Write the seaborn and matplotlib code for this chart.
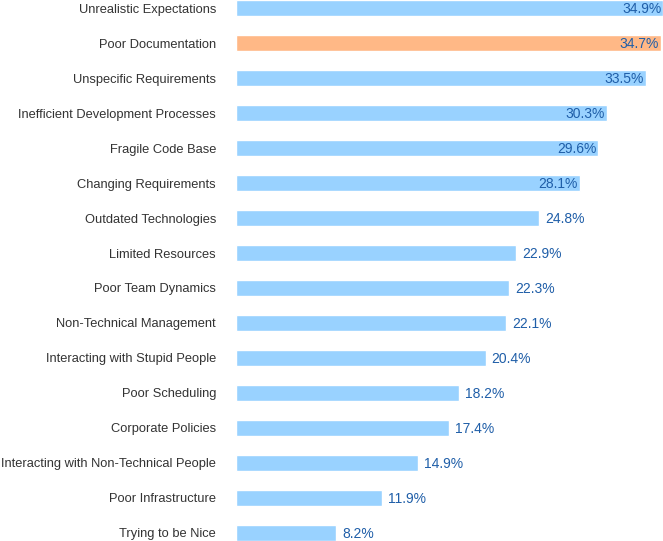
import pandas as pd
import matplotlib
matplotlib.use("Agg")
import matplotlib.pyplot as plt
import seaborn as sns

# Data (top to bottom)
categories = [
    "Unrealistic Expectations", "Poor Documentation", "Unspecific Requirements",
    "Inefficient Development Processes", "Fragile Code Base", "Changing Requirements",
    "Outdated Technologies", "Limited Resources", "Poor Team Dynamics",
    "Non-Technical Management", "Interacting with Stupid People", "Poor Scheduling",
    "Corporate Policies", "Interacting with Non-Technical People",
    "Poor Infrastructure", "Trying to be Nice",
]
values = [34.9, 34.7, 33.5, 30.3, 29.6, 28.1, 24.8, 22.9, 22.3, 22.1,
          20.4, 18.2, 17.4, 14.9, 11.9, 8.2]
highlight = "Poor Documentation"

df = pd.DataFrame({"category": categories, "value": values})
df["group"] = ["hl" if c == highlight else "base" for c in categories]

sns.set_style("white")
plt.rcParams["font.family"] = ["Liberation Sans", "DejaVu Sans"]

fig = plt.figure(figsize=(6.63, 5.41), dpi=100)
ax = fig.add_axes([236 / 663, 0, 1 - 236 / 663, 1])

sns.barplot(data=df, y="category", x="value", hue="group", orient="h",
            palette={"base": "#99d2ff", "hl": "#ffb886"}, width=0.47,
            dodge=False, legend=False, saturation=1, ax=ax)

ax.set_xlim(0, 34.9)
ax.set_ylim(15.23, -0.23)
ax.set_xlabel("")
ax.set_ylabel("")
ax.set_xticks([])
sns.despine(ax=ax, left=True, bottom=True)
ax.tick_params(axis="y", length=0, pad=14.4, labelsize=9.3, labelcolor="#333333")

# value labels: inside for long bars, outside for short ones
for i, v in enumerate(values):
    if v >= 26:
        ax.text(v - 0.15, i + 0.03, f"{v}%", ha="right", va="center",
                fontsize=10, color="#1f5ea8")
    else:
        ax.text(v + 0.5, i + 0.04, f"{v}%", ha="left", va="center",
                fontsize=10, color="#1f5ea8")

fig.savefig("out.png", dpi=100)
